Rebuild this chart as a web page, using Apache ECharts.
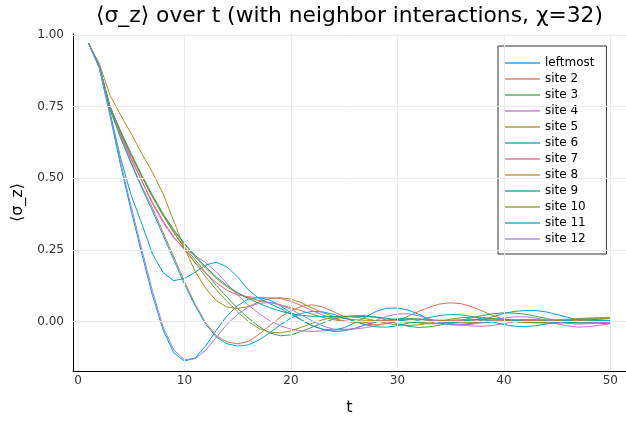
<!DOCTYPE html>
<html>
<head>
<meta charset="utf-8">
<script src="https://cdn.jsdelivr.net/npm/echarts@6/dist/echarts.min.js"></script>
<style>
html,body{margin:0;padding:0;background:#fff;}
#chart{width:626px;height:421px;}
</style>
</head>
<body>
<div id="chart"></div>
<script>
const T = [1,2,3,4,5,6,7,8,9,10,11,12,13,14,15,16,17,18,19,20,21,22,23,24,25,26,27,28,29,30,31,32,33,34,35,36,37,38,39,40,41,42,43,44,45,46,47,48,49,50];
const xTicks = [0,10,20,30,40,50];
const yTicks = [0,0.25,0.5,0.75,1.0];
const seriesNames = ['leftmost','site 2','site 3','site 4','site 5','site 6','site 7','site 8','site 9','site 10','site 11','site 12'];
const colors = ['#009AFA','#E36F47','#3EA44E','#C371D2','#AC8E18','#00AAAE','#ED5E93','#C68225','#00A98E','#8E971E','#00A9CC','#9C7FE9'];

const leftmost = [0.97,0.885,0.72,0.545,0.385,0.235,0.09,-0.03,-0.11,-0.138,
 -0.128,-0.085,-0.03,0.02,0.055,0.078,0.083,0.075,0.055,0.03,
 0.005,-0.015,-0.027,-0.03,-0.022,-0.005,0.015,0.035,0.046,0.047,
 0.04,0.025,0.008,-0.005,-0.012,-0.012,-0.006,0.005,0.017,0.028,
 0.035,0.038,0.038,0.033,0.024,0.014,0.004,-0.003,-0.007,-0.008];
const site2 = [0.97,0.89,0.745,0.645,0.555,0.47,0.395,0.31,0.225,0.14,
 0.06,-0.005,-0.05,-0.072,-0.078,-0.07,-0.045,-0.015,0.015,0.038,
 0.053,0.058,0.05,0.034,0.016,0.0,-0.01,-0.012,-0.008,0.003,
 0.018,0.035,0.05,0.061,0.065,0.062,0.051,0.036,0.02,0.008,
 0.0,-0.004,-0.004,-0.001,0.002,0.004,0.005,0.004,0.002,0.0];
const site3 = [0.97,0.89,0.75,0.66,0.58,0.505,0.435,0.37,0.31,0.26,
 0.215,0.17,0.125,0.085,0.045,0.012,-0.018,-0.04,-0.05,-0.047,
 -0.035,-0.02,-0.005,0.008,0.016,0.02,0.02,0.015,0.004,-0.008,
 -0.017,-0.021,-0.019,-0.013,-0.005,0.004,0.013,0.021,0.027,0.03,
 0.029,0.025,0.018,0.01,0.003,-0.002,-0.005,-0.006,-0.005,-0.004];
const site4 = [0.97,0.89,0.745,0.655,0.57,0.49,0.41,0.345,0.29,0.255,
 0.23,0.205,0.172,0.132,0.092,0.057,0.027,0.003,-0.015,-0.027,
 -0.033,-0.035,-0.033,-0.03,-0.028,-0.026,-0.022,-0.015,-0.006,0.002,
 0.007,0.008,0.005,0.0,-0.006,-0.012,-0.016,-0.017,-0.014,-0.008,
 -0.001,0.004,0.005,0.0,-0.008,-0.016,-0.02,-0.018,-0.013,-0.008];
const site5 = [0.97,0.9,0.79,0.72,0.655,0.585,0.52,0.445,0.35,0.255,
 0.175,0.115,0.072,0.05,0.045,0.052,0.068,0.08,0.083,0.078,
 0.065,0.047,0.03,0.018,0.01,0.006,0.004,0.003,0.002,0.0,
 -0.003,-0.004,-0.002,0.001,0.004,0.006,0.006,0.005,0.003,0.001,
 0.0,0.0,0.002,0.004,0.006,0.008,0.01,0.012,0.013,0.015];
const site6 = [0.97,0.885,0.73,0.57,0.44,0.34,0.235,0.17,0.142,0.15,
 0.172,0.197,0.207,0.19,0.155,0.11,0.08,0.062,0.045,0.025,
 0.005,-0.015,-0.028,-0.035,-0.033,-0.024,-0.012,-0.002,0.005,0.009,
 0.01,0.008,0.004,0.0,-0.003,-0.005,-0.006,-0.005,-0.002,0.002,
 0.005,0.006,0.005,0.002,-0.002,-0.005,-0.006,-0.005,-0.002,0.0];
const site7 = [0.97,0.89,0.745,0.65,0.565,0.49,0.415,0.35,0.295,0.25,
 0.205,0.168,0.135,0.108,0.092,0.086,0.083,0.082,0.08,0.07,
 0.055,0.037,0.022,0.01,0.002,-0.002,-0.002,0.0,0.003,0.005,
 0.006,0.006,0.005,0.004,0.004,0.004,0.005,0.006,0.006,0.005,
 0.004,0.003,0.002,0.001,0.0,-0.001,-0.001,-0.002,-0.003,-0.004];
const site8 = [0.97,0.89,0.75,0.66,0.58,0.505,0.435,0.37,0.315,0.27,
 0.225,0.185,0.15,0.12,0.098,0.083,0.073,0.066,0.058,0.048,
 0.037,0.025,0.014,0.006,0.0,-0.003,-0.003,-0.001,0.003,0.006,
 0.008,0.008,0.006,0.003,0.0,-0.002,-0.003,-0.002,0.0,0.003,
 0.005,0.006,0.006,0.005,0.004,0.004,0.005,0.006,0.008,0.01];
const site9 = [0.97,0.89,0.75,0.665,0.585,0.51,0.44,0.375,0.32,0.272,
 0.23,0.19,0.155,0.125,0.1,0.08,0.063,0.048,0.036,0.027,
 0.021,0.018,0.017,0.017,0.018,0.018,0.017,0.015,0.011,0.006,
 0.0,-0.005,-0.008,-0.008,-0.005,0.0,0.005,0.009,0.01,0.008,
 0.004,0.0,-0.004,-0.006,-0.006,-0.004,-0.001,0.002,0.003,0.003];
const site10 = [0.97,0.89,0.75,0.66,0.58,0.505,0.435,0.37,0.31,0.255,
 0.205,0.155,0.11,0.07,0.033,0.0,-0.025,-0.038,-0.04,-0.033,
 -0.02,-0.006,0.006,0.014,0.017,0.015,0.01,0.002,-0.006,-0.012,
 -0.014,-0.012,-0.006,0.001,0.008,0.013,0.015,0.014,0.01,0.004,
 -0.001,-0.004,-0.005,-0.003,0.0,0.004,0.007,0.009,0.01,0.01];
const site11 = [0.97,0.89,0.74,0.64,0.55,0.465,0.385,0.3,0.215,0.13,
 0.055,-0.01,-0.055,-0.078,-0.086,-0.082,-0.065,-0.04,-0.012,0.012,
 0.028,0.035,0.033,0.025,0.012,0.0,-0.012,-0.019,-0.02,-0.015,
 -0.006,0.004,0.014,0.021,0.024,0.023,0.017,0.008,-0.002,-0.011,
 -0.017,-0.018,-0.015,-0.009,-0.002,0.004,0.008,0.008,0.005,0.002];
const site12 = [0.97,0.885,0.725,0.555,0.4,0.25,0.105,-0.02,-0.1,-0.133,
 -0.13,-0.1,-0.055,-0.01,0.025,0.05,0.063,0.066,0.058,0.042,
 0.022,0.002,-0.016,-0.027,-0.03,-0.025,-0.012,0.004,0.018,0.026,
 0.027,0.02,0.009,-0.002,-0.01,-0.013,-0.01,-0.003,0.005,0.012,
 0.016,0.016,0.012,0.005,-0.002,-0.007,-0.009,-0.008,-0.005,-0.002];

const allValues = [leftmost,site2,site3,site4,site5,site6,site7,site8,site9,site10,site11,site12];

const FONT = 'DejaVu Sans';
const chart = echarts.init(document.getElementById('chart'), null, {renderer:'canvas'});

const series = [{
  name: '__grid', type: 'line', data: [], silent: true, z: 0,
  markLine: {
    silent: true, symbol: ['none','none'], animation: false,
    label: {show: false},
    lineStyle: {color: '#ebebeb', type: 'solid', width: 1},
    data: xTicks.map(v => ({xAxis: v})).concat(yTicks.map(v => ({yAxis: v})))
  }
}];
allValues.forEach((vals, i) => {
  series.push({
    name: seriesNames[i], type: 'line', z: 2,
    data: T.map((t, j) => [t, vals[j]]),
    symbol: 'none', showSymbol: false, smooth: false,
    lineStyle: {width: 1, color: colors[i]},
    itemStyle: {color: colors[i]},
    animation: false
  });
});

chart.setOption({
  backgroundColor: '#ffffff',
  animation: false,
  grid: {left: 73, right: 0, top: 34, bottom: 44, containLabel: false},
  xAxis: {
    type: 'value', min: -0.47, max: 51.47,
    name: 't', nameLocation: 'middle', nameGap: 29,
    nameTextStyle: {fontFamily: FONT, fontSize: 16, color: '#000'},
    axisLine: {show: true, onZero: false, lineStyle: {color: '#000', width: 1}},
    axisTick: {show: true, inside: true, length: 4, customValues: xTicks, lineStyle: {color: '#000'}},
    axisLabel: {show: true, customValues: xTicks, fontFamily: FONT, fontSize: 12, color: '#333', margin: 4},
    splitLine: {show: false}
  },
  yAxis: {
    type: 'value', min: -0.173, max: 1.003,
    name: '⟨σ_z⟩', nameLocation: 'middle', nameGap: 47,
    nameTextStyle: {fontFamily: FONT, fontSize: 16, color: '#000'},
    axisLine: {show: true, onZero: false, lineStyle: {color: '#000', width: 1}},
    axisTick: {show: true, inside: true, length: 4, customValues: yTicks, lineStyle: {color: '#000'}},
    axisLabel: {show: true, customValues: yTicks, fontFamily: FONT, fontSize: 12, color: '#333', margin: 9,
      formatter: v => v.toFixed(2)},
    splitLine: {show: false}
  },
  legend: {
    show: true,
    data: seriesNames.map(n => ({name: n, icon: 'rect'})),
    orient: 'vertical', left: 498, top: 46,
    backgroundColor: '#fff', borderColor: '#333', borderWidth: 1, borderRadius: 0,
    padding: [11, 12, 9, 6],
    itemWidth: 36, itemHeight: 2, itemGap: 4,
    itemStyle: {opacity: 0.65},
    textStyle: {fontFamily: FONT, fontSize: 12, color: '#000'},
    selectedMode: false
  },
  graphic: [{
    type: 'text', x: 349.5, y: 16,
    style: {text: '⟨σ_z⟩ over t (with neighbor interactions, χ=32)', font: '21.8px "DejaVu Sans"', fill: '#000',
      textAlign: 'center', textVerticalAlign: 'middle'}
  }],
  series: series
});
</script>
</body>
</html>
